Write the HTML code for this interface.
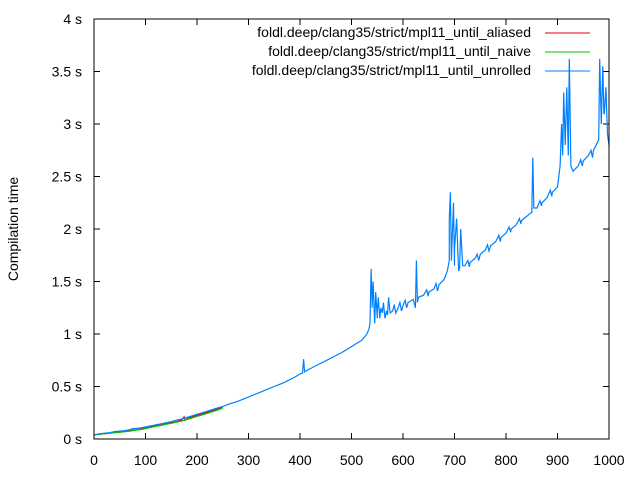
<!DOCTYPE html>
<html><head><meta charset="utf-8"><style>
body{margin:0;background:#fff}
svg text{font-family:"Liberation Sans",Arial,sans-serif;font-size:14px;fill:#000}
</style></head><body>
<svg id="chart" width="640" height="480" xmlns="http://www.w3.org/2000/svg">
<rect width="640" height="480" fill="#fff"/>
<g id="plot"></g>
<text transform="translate(18,229) rotate(-90)" text-anchor="middle">Compilation time</text>
<g>
<text x="531" y="37" text-anchor="end">foldl.deep/clang35/strict/mpl11_until_aliased</text>
<line x1="545" y1="33" x2="590" y2="33" stroke="#e00000" stroke-width="1"/>
<text x="531" y="56" text-anchor="end">foldl.deep/clang35/strict/mpl11_until_naive</text>
<line x1="545" y1="52" x2="590" y2="52" stroke="#00c000" stroke-width="1"/>
<text x="531" y="75" text-anchor="end">foldl.deep/clang35/strict/mpl11_until_unrolled</text>
<line x1="545" y1="71" x2="590" y2="71" stroke="#0080ff" stroke-width="1"/>
</g>
</svg>
<script>
const xTicks=[0,100,200,300,400,500,600,700,800,900,1000];
const yTicks=[0,0.5,1,1.5,2,2.5,3,3.5,4];
const yTickLabels=["0 s","0.5 s","1 s","1.5 s","2 s","2.5 s","3 s","3.5 s","4 s"];
const baseX=[0,10,20,30,40,50,60,70,80,90,100,110,120,130,140,150,160,170,180,190,200,210,220,230,240,250,260,270,280,290,300,310,320,330,340,350,360,370,380,390,400,410,420,430,440,450,460,470,480,490,500,510,520,530,540,550,560,570,580,590,600,610,620,630,640,650,660,670,680,690,700,710,720,730,740,750,760,770,780,790,800,810,820,830,840,850,860,870,880,890,900,910,920,930,940,950,960,970,980,990];
const baseY=[0.04,0.05,0.055,0.06,0.07,0.075,0.08,0.09,0.10,0.105,0.115,0.125,0.135,0.145,0.155,0.165,0.18,0.19,0.205,0.22,0.235,0.25,0.265,0.28,0.295,0.31,0.33,0.345,0.36,0.38,0.40,0.42,0.44,0.46,0.48,0.50,0.52,0.54,0.565,0.59,0.62,0.645,0.67,0.695,0.72,0.745,0.77,0.795,0.82,0.85,0.88,0.91,0.94,1.0,1.3,1.15,1.2,1.18,1.22,1.24,1.27,1.3,1.33,1.35,1.37,1.4,1.43,1.47,1.52,1.7,1.65,1.63,1.65,1.68,1.72,1.76,1.8,1.84,1.88,1.92,1.96,2.0,2.04,2.08,2.12,2.16,2.2,2.25,2.3,2.35,2.4,2.7,2.9,2.55,2.6,2.65,2.7,2.75,2.85,3.1];
const spikeX=[405,407,409,534,536,538,540,542,545,547,550,552,555,557,562,565,568,572,575,583,586,594,597,604,607,624,626,628,646,649,664,667,686,690,692,694,698,700,704,708,712,716,726,729,744,747,764,767,786,789,806,809,826,829,850,852,854,866,869,886,889,905,908,912,915,918,921,923,926,930,945,948,965,968,980,982,985,988,991,994,997,1000];
const spikeY=[0.63,0.76,0.64,1.05,1.1,1.62,1.25,1.5,1.1,1.4,1.2,1.35,1.15,1.25,1.3,1.15,1.22,1.35,1.2,1.28,1.2,1.3,1.22,1.32,1.25,1.25,1.7,1.3,1.42,1.36,1.48,1.41,1.6,2.1,2.35,1.7,2.25,1.8,2.1,1.6,2.0,1.65,1.7,1.64,1.76,1.7,1.85,1.79,1.94,1.88,2.02,1.97,2.1,2.05,2.15,2.68,2.2,2.27,2.22,2.37,2.31,2.6,3.0,3.3,2.8,3.35,2.7,3.62,2.6,2.55,2.66,2.6,2.75,2.68,2.85,3.62,3.0,3.55,3.1,3.35,2.9,2.8];
const redX=[0,10,20,30,40,50,60,70,75,80,90,100,110,120,130,140,150,160,170,175,177,180,190,200,210,220,230,240,250];
const redY=[0.04,0.045,0.05,0.055,0.06,0.065,0.07,0.08,0.1,0.085,0.095,0.105,0.115,0.125,0.135,0.145,0.155,0.165,0.18,0.21,0.18,0.19,0.21,0.225,0.24,0.255,0.27,0.285,0.3];
const greenX=[0,10,20,30,40,50,60,70,80,90,100,110,120,130,140,150,160,170,180,190,200,210,220,230,240,250];
const greenY=[0.04,0.045,0.05,0.055,0.06,0.065,0.07,0.075,0.085,0.09,0.1,0.11,0.12,0.13,0.14,0.15,0.16,0.17,0.185,0.2,0.215,0.23,0.245,0.26,0.275,0.295];

const L=94,R=609,T=19,B=439;
const sx=v=>L+(v-0)/(1000-0)*(R-L);
const sy=v=>B-(v-0)/(4-0)*(B-T);
const NS="http://www.w3.org/2000/svg";
const plot=document.getElementById('plot');
function mk(tag,attrs){const e=document.createElementNS(NS,tag);for(const k in attrs)e.setAttribute(k,attrs[k]);plot.appendChild(e);return e;}

yTicks.forEach((v,i)=>{
  const y=sy(v);
  const t1=mk('line',{x1:L,y1:y,x2:L+6,y2:y,stroke:'#000'});
  
  
  const t2=mk('line',{x1:R-6,y1:y,x2:R,y2:y,stroke:'#000'});
  
  
  const tx=mk('text',{x:L-12,y:y+5,'text-anchor':'end'});
  tx.textContent=yTickLabels[i];
  
  
});
xTicks.forEach(v=>{
  const x=sx(v);
  const t1=mk('line',{x1:x,y1:B,x2:x,y2:B-6,stroke:'#000'});
  
  
  const t2=mk('line',{x1:x,y1:T,x2:x,y2:T+6,stroke:'#000'});
  
  
  const tx=mk('text',{x:x,y:B+26,'text-anchor':'middle'});
  tx.textContent=String(v);
  
  
});

function series(xs,ys,color,name){
  const pts=xs.map((x,i)=>sx(x).toFixed(1)+','+sy(ys[i]).toFixed(1)).join(' ');
  const p=mk('polyline',{points:pts,fill:'none',stroke:color,'stroke-width':1.2});
  
  
}
const pairs=baseX.map((x,i)=>[x,baseY[i]]).concat(spikeX.map((x,i)=>[x,spikeY[i]])).sort((a,b)=>a[0]-b[0]);
const blueX=pairs.map(p=>p[0]), blueY=pairs.map(p=>p[1]);
series(redX,redY,'#e00000','series-aliased');
series(greenX,greenY,'#00c000','series-naive');
series(blueX,blueY,'#0080ff','series-unrolled');

const f=mk('rect',{x:L,y:T,width:R-L,height:B-T,fill:'none',stroke:'#000'});


</script>
</body></html>
